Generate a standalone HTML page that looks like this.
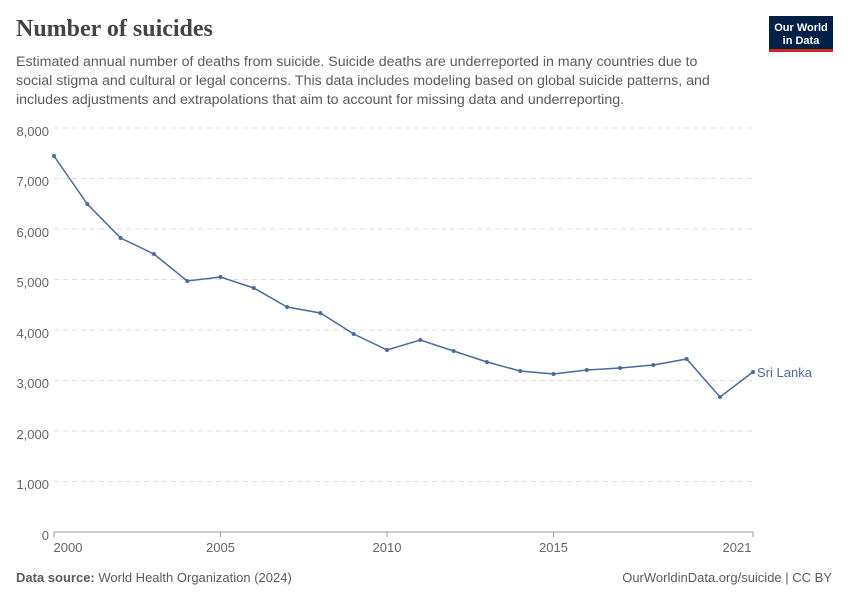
<!DOCTYPE html>
<html><head><meta charset="utf-8"><style>
body{margin:0;background:#fff;font-family:"Liberation Sans",sans-serif;}
</style></head><body>
<svg width="850" height="600" xmlns="http://www.w3.org/2000/svg" font-family="Liberation Sans, sans-serif">
<rect width="850" height="600" fill="#fff"/>
<text x="16" y="36" font-family="Liberation Serif, serif" font-size="24" font-weight="bold" fill="#444">Number of suicides</text>
<text font-size="14.2" fill="#5b5b5b">
<tspan x="16" y="66">Estimated annual number of deaths from suicide. Suicide deaths are underreported in many countries due to</tspan>
<tspan x="16" y="85">social stigma and cultural or legal concerns. This data includes modeling based on global suicide patterns, and</tspan>
<tspan x="16" y="104">includes adjustments and extrapolations that aim to account for missing data and underreporting.</tspan>
</text>
<rect x="769" y="16" width="64" height="36" fill="#002147"/>
<rect x="769" y="49" width="64" height="3" fill="#ce261e"/>
<text x="801" y="31" font-size="11" fill="#fff" text-anchor="middle" font-weight="bold">Our World</text>
<text x="801" y="44" font-size="11" fill="#fff" text-anchor="middle" font-weight="bold">in Data</text>
<g font-size="13" fill="#666" text-anchor="end">
<text x="49" y="136">8,000</text><text x="49" y="186">7,000</text><text x="49" y="237">6,000</text>
<text x="49" y="287">5,000</text><text x="49" y="338">4,000</text><text x="49" y="388">3,000</text>
<text x="49" y="439">2,000</text><text x="49" y="489">1,000</text><text x="49" y="540">0</text>
</g>
<g stroke="#ddd" stroke-dasharray="5,4">
<line x1="54" x2="753" y1="128" y2="128"/><line x1="54" x2="753" y1="178.5" y2="178.5"/>
<line x1="54" x2="753" y1="229" y2="229"/><line x1="54" x2="753" y1="279.5" y2="279.5"/>
<line x1="54" x2="753" y1="330" y2="330"/><line x1="54" x2="753" y1="380.5" y2="380.5"/>
<line x1="54" x2="753" y1="431" y2="431"/><line x1="54" x2="753" y1="481.5" y2="481.5"/>
</g>
<line x1="54" x2="753" y1="532" y2="532" stroke="#999"/>
<g stroke="#999"><line x1="54" x2="54" y1="532" y2="537"/><line x1="220.5" x2="220.5" y1="532" y2="537"/><line x1="387" x2="387" y1="532" y2="537"/><line x1="553.5" x2="553.5" y1="532" y2="537"/><line x1="753" x2="753" y1="532" y2="537"/></g>
<g font-size="13" fill="#666" text-anchor="middle">
<text x="68" y="552">2000</text><text x="220.5" y="552">2005</text><text x="387" y="552">2010</text><text x="553.5" y="552">2015</text><text x="737" y="552">2021</text>
</g>
<polyline fill="none" stroke="#4c6a9c" stroke-width="1.5" points="54,156 87.3,204 120.6,238 153.9,254 187.2,281 220.5,277 253.8,288 287.1,307 320.4,313 353.7,334 387,350 420.3,340 453.6,351 486.9,362 520.2,371 553.5,374 586.8,370 620.1,368 653.4,365 686.7,359 720,397 753,372"/>
<g fill="#4c6a9c">
<circle cx="54" cy="156" r="2"/><circle cx="87.3" cy="204" r="2"/><circle cx="120.6" cy="238" r="2"/><circle cx="153.9" cy="254" r="2"/><circle cx="187.2" cy="281" r="2"/><circle cx="220.5" cy="277" r="2"/><circle cx="253.8" cy="288" r="2"/><circle cx="287.1" cy="307" r="2"/><circle cx="320.4" cy="313" r="2"/><circle cx="353.7" cy="334" r="2"/><circle cx="387" cy="350" r="2"/><circle cx="420.3" cy="340" r="2"/><circle cx="453.6" cy="351" r="2"/><circle cx="486.9" cy="362" r="2"/><circle cx="520.2" cy="371" r="2"/><circle cx="553.5" cy="374" r="2"/><circle cx="586.8" cy="370" r="2"/><circle cx="620.1" cy="368" r="2"/><circle cx="653.4" cy="365" r="2"/><circle cx="686.7" cy="359" r="2"/><circle cx="720" cy="397" r="2"/><circle cx="753" cy="372" r="2"/>
</g>
<text x="757" y="377" font-size="13" fill="#4c6a9c">Sri Lanka</text>
<text x="16" y="582" font-size="13" fill="#5b5b5b"><tspan font-weight="bold">Data source:</tspan> World Health Organization (2024)</text>
<text x="832" y="582" font-size="13" fill="#5b5b5b" text-anchor="end">OurWorldinData.org/suicide | CC BY</text>
</svg>
</body></html>
